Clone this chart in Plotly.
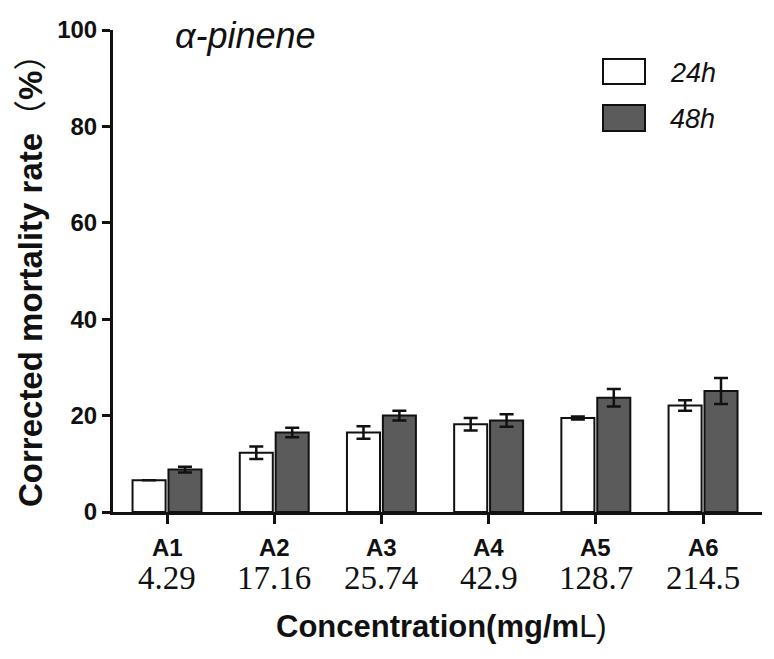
import plotly.graph_objects as go

categories = ["A1", "A2", "A3", "A4", "A5", "A6"]
concentrations = ["4.29", "17.16", "25.74", "42.9", "128.7", "214.5"]
mort_24h = [6.6, 12.3, 16.5, 18.2, 19.5, 22.1]
err_24h = [0.0, 1.3, 1.3, 1.3, 0.3, 1.1]
mort_48h = [8.8, 16.5, 20.0, 19.0, 23.7, 25.1]
err_48h = [0.6, 1.0, 1.0, 1.3, 1.8, 2.7]
series_names = ["24h", "48h"]
y_ticks = [0, 20, 40, 60, 80, 100]

WHITE = "#ffffff"
DARK = "#5b5b5b"
BLACK = "#111111"

fig = go.Figure()
fig.add_trace(go.Bar(
    x=categories, y=mort_24h, name=series_names[0],
    marker=dict(color=WHITE, line=dict(color=BLACK, width=2)),
    error_y=dict(type="data", array=err_24h, visible=True, color=BLACK, thickness=2.5, width=7),
    showlegend=False,
))
fig.add_trace(go.Bar(
    x=categories, y=mort_48h, name=series_names[1],
    marker=dict(color=DARK, line=dict(color=BLACK, width=2)),
    error_y=dict(type="data", array=err_48h, visible=True, color=BLACK, thickness=2.5, width=7),
    showlegend=False,
))

# page pixel -> paper coordinate (plot area spans page x 113..762, y 30..512)
def py(pix):
    return (512 - pix) / 482.0

def px(pix):
    return (pix - 113) / 649.0

annotations = []
for cat, conc in zip(categories, concentrations):
    annotations.append(dict(
        x=cat, xref="x", y=py(547), yref="paper", yanchor="middle", xanchor="center",
        text="<b>%s</b>" % cat, showarrow=False,
        font=dict(family="Liberation Sans, Arial", size=24, color=BLACK),
    ))
    annotations.append(dict(
        x=cat, xref="x", y=py(578), yref="paper", yanchor="middle", xanchor="center",
        text=conc, showarrow=False,
        font=dict(family="Liberation Serif, Times New Roman", size=33, color=BLACK),
    ))

annotations.append(dict(
    x=px(441), y=py(626), xref="paper", yref="paper", xanchor="center", yanchor="middle",
    text="<b>Concentration(mg/m</b>L)", showarrow=False,
    font=dict(family="Liberation Sans, Arial", size=31, color=BLACK),
))
annotations.append(dict(
    x=px(30), y=py(273), xref="paper", yref="paper", xanchor="center", yanchor="middle",
    text="<b>Corrected mortality rate</b>（<b>%</b>）",
    textangle=-90, showarrow=False,
    font=dict(family="Liberation Sans, Noto Sans CJK SC, Arial", size=33, color=BLACK),
))
annotations.append(dict(
    x=px(245), y=py(36), xref="paper", yref="paper", xanchor="center", yanchor="middle",
    text="<i>α-pinene</i>", showarrow=False,
    font=dict(family="Liberation Sans, Arial", size=36, color=BLACK),
))
# legend labels
annotations.append(dict(
    x=px(668), y=py(73), xref="paper", yref="paper", xanchor="left", yanchor="middle",
    text="<i>%s</i>" % series_names[0], showarrow=False,
    font=dict(family="Liberation Sans, Arial", size=27, color=BLACK),
))
annotations.append(dict(
    x=px(668), y=py(119), xref="paper", yref="paper", xanchor="left", yanchor="middle",
    text="<i>%s</i>" % series_names[1], showarrow=False,
    font=dict(family="Liberation Sans, Arial", size=27, color=BLACK),
))

shapes = [
    dict(type="rect", xref="paper", yref="paper", x0=px(603), x1=px(645), y0=py(84), y1=py(59),
         fillcolor=WHITE, line=dict(color=BLACK, width=2)),
    dict(type="rect", xref="paper", yref="paper", x0=px(603), x1=px(645), y0=py(131), y1=py(105),
         fillcolor=DARK, line=dict(color=BLACK, width=2)),
]

# the page body has an 8px margin, so the figure is shrunk and offset accordingly
fig.update_layout(
    width=758, height=643,
    margin=dict(l=105, r=4, t=22, b=139, autoexpand=False),
    paper_bgcolor="white", plot_bgcolor="white",
    barmode="group", bargap=0.33, bargroupgap=0.08,
    annotations=annotations, shapes=shapes,
    showlegend=False,
    xaxis=dict(
        type="category", range=[-0.504, 5.55],
        showline=True, linecolor=BLACK, linewidth=3,
        ticks="outside", ticklen=9, tickwidth=2.5, tickcolor=BLACK,
        showticklabels=False, showgrid=False, zeroline=False,
    ),
    yaxis=dict(
        range=[0, 100], tickvals=y_ticks, ticktext=["<b>%d</b>" % v for v in y_ticks],
        showline=True, linecolor=BLACK, linewidth=3,
        ticks="outside", ticklen=8, tickwidth=2.5, tickcolor=BLACK,
        tickfont=dict(family="Liberation Sans, Arial", size=24, color=BLACK),
        showgrid=False, zeroline=False,
    ),
)

fig.write_html("out.html")
